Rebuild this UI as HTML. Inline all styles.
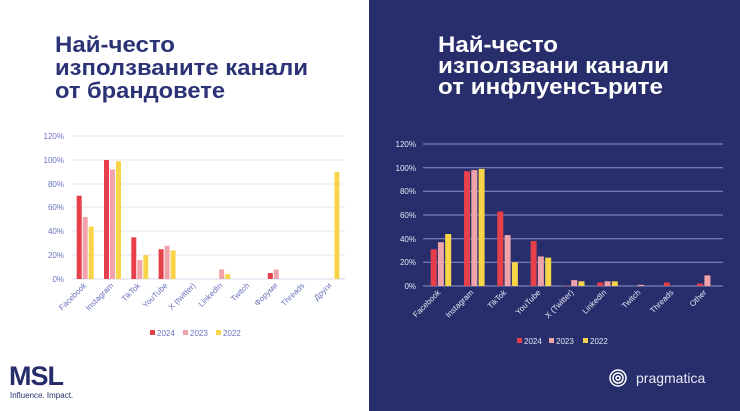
<!DOCTYPE html>
<html><head><meta charset="utf-8"><style>
html,body{margin:0;padding:0;width:740px;height:411px;overflow:hidden;background:#fff;font-family:"Liberation Sans","DejaVu Sans",sans-serif}
</style></head><body>
<svg width="740" height="411" viewBox="0 0 740 411" xmlns="http://www.w3.org/2000/svg" font-family="Liberation Sans, DejaVu Sans, sans-serif">
<rect x="0" y="0" width="369" height="411" fill="#fff"/>
<rect x="369" y="0" width="371" height="411" fill="#272e6b"/>
<!-- titles -->
<g font-size="22" font-weight="bold" fill="#2b3275">
<text x="55" y="52" textLength="120" lengthAdjust="spacingAndGlyphs">Най-често</text>
<text x="55" y="75" textLength="253" lengthAdjust="spacingAndGlyphs">използваните канали</text>
<text x="55" y="98" textLength="170" lengthAdjust="spacingAndGlyphs">от брандовете</text>
</g>
<g font-size="22" font-weight="bold" fill="#fff">
<text x="438" y="52" textLength="120" lengthAdjust="spacingAndGlyphs">Най-често</text>
<text x="438" y="73" textLength="231" lengthAdjust="spacingAndGlyphs">използвани канали</text>
<text x="438" y="94" textLength="225" lengthAdjust="spacingAndGlyphs">от инфлуенсърите</text>
</g>
<!-- left chart grid -->
<g stroke="#e4e6f2" stroke-width="1">
<line x1="72" x2="345" y1="136" y2="136"/><line x1="72" x2="345" y1="160" y2="160"/>
<line x1="72" x2="345" y1="184" y2="184"/><line x1="72" x2="345" y1="207" y2="207"/>
<line x1="72" x2="345" y1="231" y2="231"/><line x1="72" x2="345" y1="255" y2="255"/>
</g>
<line x1="72" x2="345" y1="279" y2="279" stroke="#d4d7ea"/>
<g font-size="8" fill="#6a72bd" text-anchor="end">
<text x="64" y="139">120%</text><text x="64" y="163">100%</text><text x="64" y="187">80%</text>
<text x="64" y="210">60%</text><text x="64" y="234">40%</text><text x="64" y="258">20%</text><text x="64" y="282">0%</text>
</g>
<g fill="#e8404a">
<rect x="76.7" y="195.7" width="5" height="83.3"/><rect x="104" y="160" width="5" height="119"/>
<rect x="131.3" y="237.3" width="5" height="41.7"/><rect x="158.6" y="249.2" width="5" height="29.8"/>
<rect x="267.8" y="273" width="5" height="6"/>
</g>
<g fill="#f0a3a8">
<rect x="82.7" y="217.1" width="5" height="61.9"/><rect x="110" y="169.5" width="5" height="109.5"/>
<rect x="137.3" y="260" width="5" height="19"/><rect x="164.6" y="245.7" width="5" height="33.3"/>
<rect x="219.2" y="269.5" width="5" height="9.5"/><rect x="273.8" y="269.5" width="5" height="9.5"/>
</g>
<g fill="#f8d548">
<rect x="88.7" y="226.6" width="5" height="52.4"/><rect x="116" y="161.2" width="5" height="117.8"/>
<rect x="143.3" y="255.2" width="5" height="23.8"/><rect x="170.6" y="250.4" width="5" height="28.6"/>
<rect x="225.2" y="274.2" width="5" height="4.8"/><rect x="334.4" y="171.9" width="5" height="107.1"/>
</g>
<g font-size="8" fill="#6a72bd" text-anchor="end">
<text transform="translate(87,286) rotate(-45)">Facebook</text>
<text transform="translate(114,286) rotate(-45)">Instagram</text>
<text transform="translate(141,286) rotate(-45)">TikTok</text>
<text transform="translate(168,286) rotate(-45)">YouTube</text>
<text transform="translate(196,286) rotate(-45)">X (twitter)</text>
<text transform="translate(223,286) rotate(-45)">LinkedIn</text>
<text transform="translate(250,286) rotate(-45)">Twitch</text>
<text transform="translate(278,286) rotate(-45)">Форуми</text>
<text transform="translate(305,286) rotate(-45)">Threads</text>
<text transform="translate(332,286) rotate(-45)">Други</text>
</g>
<g font-size="8" fill="#6a72bd">
<rect x="150" y="330" width="5" height="5" fill="#e8404a"/><text x="157" y="336">2024</text>
<rect x="183" y="330" width="5" height="5" fill="#f0a3a8"/><text x="190" y="336">2023</text>
<rect x="216" y="330" width="5" height="5" fill="#f8d548"/><text x="223" y="336">2022</text>
</g>
<!-- right chart -->
<g stroke="#8c92c6" stroke-width="1">
<line x1="423" x2="723" y1="144" y2="144"/><line x1="423" x2="723" y1="167.7" y2="167.7"/>
<line x1="423" x2="723" y1="191.3" y2="191.3"/><line x1="423" x2="723" y1="215" y2="215"/>
<line x1="423" x2="723" y1="238.7" y2="238.7"/><line x1="423" x2="723" y1="262.3" y2="262.3"/>
<line x1="423" x2="723" y1="286" y2="286"/>
</g>
<g font-size="8" fill="#e4e6f4" text-anchor="end">
<text x="416" y="147">120%</text><text x="416" y="171">100%</text><text x="416" y="194">80%</text>
<text x="416" y="218">60%</text><text x="416" y="242">40%</text><text x="416" y="265">20%</text><text x="416" y="289">0%</text>
</g>
<g fill="#e8404a">
<rect x="430.7" y="249.3" width="6" height="36.7"/><rect x="464" y="171.2" width="6" height="114.8"/>
<rect x="497.3" y="211.5" width="6" height="74.5"/><rect x="530.6" y="241" width="6" height="45"/>
<rect x="563.9" y="285.6" width="6" height="0.4"/><rect x="597.2" y="282.5" width="6" height="3.5"/>
<rect x="663.8" y="282.5" width="6" height="3.5"/><rect x="697.1" y="283.6" width="6" height="2.4"/>
</g>
<g fill="#f0a3a8">
<rect x="437.9" y="242.2" width="6" height="43.8"/><rect x="471.3" y="170.1" width="6" height="115.9"/>
<rect x="504.6" y="235.1" width="6" height="50.9"/><rect x="537.9" y="256.4" width="6" height="29.6"/>
<rect x="571.2" y="280.1" width="6" height="5.9"/><rect x="604.5" y="281.3" width="6" height="4.7"/>
<rect x="637.8" y="284.8" width="6" height="1.2"/><rect x="704.4" y="275.4" width="6" height="10.6"/>
</g>
<g fill="#f8d548">
<rect x="445.2" y="234" width="6" height="52"/><rect x="478.6" y="168.9" width="6" height="117.1"/>
<rect x="511.9" y="262.3" width="6" height="23.7"/><rect x="545.2" y="257.6" width="6" height="28.4"/>
<rect x="578.5" y="281.3" width="6" height="4.7"/><rect x="611.8" y="281.3" width="6" height="4.7"/>
</g>
<g font-size="8" fill="#e4e6f4" text-anchor="end">
<text transform="translate(441,293) rotate(-45)">Facebook</text>
<text transform="translate(474,293) rotate(-45)">Instagram</text>
<text transform="translate(507,293) rotate(-45)">TikTok</text>
<text transform="translate(541,293) rotate(-45)">YouTube</text>
<text transform="translate(574,293) rotate(-45)">X (Twitter)</text>
<text transform="translate(607,293) rotate(-45)">LinkedIn</text>
<text transform="translate(641,293) rotate(-45)">Twitch</text>
<text transform="translate(674,293) rotate(-45)">Threads</text>
<text transform="translate(707,293) rotate(-45)">Other</text>
</g>
<g font-size="8" fill="#e4e6f4">
<rect x="517" y="338" width="5" height="5" fill="#e8404a"/><text x="524" y="344">2024</text>
<rect x="549" y="338" width="5" height="5" fill="#f0a3a8"/><text x="556" y="344">2023</text>
<rect x="583" y="338" width="5" height="5" fill="#f8d548"/><text x="590" y="344">2022</text>
</g>
<!-- logos -->
<text x="9" y="385" font-size="27" font-weight="bold" fill="#262d6a" letter-spacing="-1">MSL</text>
<text x="10" y="398" font-size="8" fill="#262d6a">Influence. Impact.</text>
<g fill="none" stroke="#fff" stroke-width="1.5">
<circle cx="618" cy="378" r="8"/><circle cx="618" cy="378" r="5"/><circle cx="618" cy="378" r="2"/>
</g>
<text x="636" y="383" font-size="14" fill="#e8e9f4">pragmatica</text>
</svg>
</body></html>
